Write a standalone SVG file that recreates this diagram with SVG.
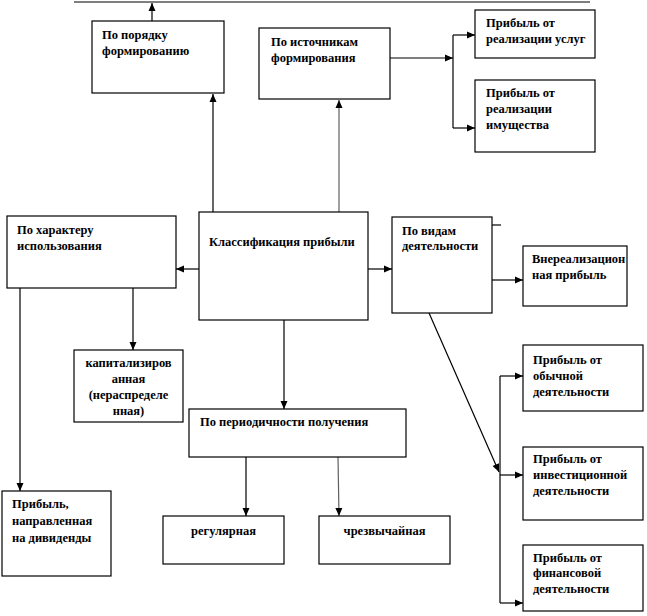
<svg xmlns="http://www.w3.org/2000/svg" width="647" height="616" viewBox="0 0 647 616">
<style>
.box{fill:#fff;stroke:#000;stroke-width:1.2}
text{font-family:'Liberation Serif','Times New Roman','DejaVu Serif',serif;font-weight:bold;font-size:12.5px;fill:#000}
.c{text-anchor:middle}
.ln{fill:none;stroke:#000;stroke-width:1.2}
.gr{stroke:#606060}
</style>
<defs>
<marker id="ah" markerUnits="userSpaceOnUse" markerWidth="10" markerHeight="10" viewBox="0 0 10 10" refX="9" refY="5" orient="auto">
<path d="M1,1.5 L9,5 L1,8.5 Z" fill="#000"/>
</marker>
</defs>
<rect width="647" height="616" fill="#fff"/>
<g id="connectors">
<line class="ln" x1="74" y1="2" x2="590" y2="2"/>
<line class="ln" x1="152" y1="21" x2="152" y2="3" marker-end="url(#ah)"/>
<line class="ln" x1="213" y1="212" x2="213" y2="94" marker-end="url(#ah)"/>
<line class="ln gr" x1="339" y1="212" x2="339" y2="100" marker-end="url(#ah)"/>
<line class="ln" x1="390" y1="58" x2="453" y2="58" marker-end="url(#ah)"/>
<line class="ln" x1="453" y1="35" x2="453" y2="128"/>
<line class="ln" x1="453" y1="35" x2="475" y2="35" marker-end="url(#ah)"/>
<line class="ln" x1="453" y1="128" x2="475" y2="128" marker-end="url(#ah)"/>
<line class="ln" x1="199" y1="269" x2="176" y2="269" marker-end="url(#ah)"/>
<line class="ln" x1="368" y1="269" x2="392" y2="269" marker-end="url(#ah)"/>
<line class="ln" x1="20" y1="288" x2="20" y2="491" marker-end="url(#ah)"/>
<line class="ln" x1="133" y1="288" x2="133" y2="350" marker-end="url(#ah)"/>
<line class="ln" x1="284" y1="320" x2="284" y2="409" marker-end="url(#ah)"/>
<line class="ln" x1="246" y1="457" x2="246" y2="516" marker-end="url(#ah)"/>
<line class="ln gr" x1="338" y1="457" x2="339" y2="516" marker-end="url(#ah)"/>
<line class="ln" x1="492" y1="225" x2="501" y2="225"/>
<line class="ln" x1="492" y1="280" x2="523" y2="280" marker-end="url(#ah)"/>
<line class="ln" x1="429" y1="313" x2="499" y2="472" marker-end="url(#ah)"/>
<line class="ln" x1="500" y1="376" x2="500" y2="603"/>
<line class="ln" x1="500" y1="376" x2="523" y2="376" marker-end="url(#ah)"/>
<line class="ln" x1="500" y1="475" x2="523" y2="475" marker-end="url(#ah)"/>
<line class="ln" x1="500" y1="603" x2="523" y2="603" marker-end="url(#ah)"/>
</g>
<g id="n-poryadok">
<rect class="box" x="92" y="21" width="132" height="72"/>
<text x="102" y="39">По порядку</text>
<text x="102" y="55">формированию</text>
</g>
<g id="n-istochniki">
<rect class="box" x="259" y="28" width="131" height="71"/>
<text x="271" y="46">По источникам</text>
<text x="271" y="62">формирования</text>
</g>
<g id="n-uslugi">
<rect class="box" x="475" y="10" width="120" height="48"/>
<text x="486" y="27">Прибыль от</text>
<text x="486" y="43">реализации услуг</text>
</g>
<g id="n-imushestvo">
<rect class="box" x="475" y="80" width="120" height="72"/>
<text x="486" y="97">Прибыль от</text>
<text x="486" y="113">реализации</text>
<text x="486" y="129">имущества</text>
</g>
<g id="n-harakter">
<rect class="box" x="7" y="216" width="169" height="72"/>
<text x="17" y="234">По характеру</text>
<text x="17" y="250">использования</text>
</g>
<g id="n-klass">
<rect class="box" x="199" y="212" width="169" height="108"/>
<text x="209" y="246">Классификация прибыли</text>
</g>
<g id="n-vidy">
<rect class="box" x="392" y="217" width="100" height="96"/>
<text x="402" y="235">По видам</text>
<text x="402" y="250">деятельности</text>
</g>
<g id="n-vnereal">
<rect class="box" x="523" y="246" width="104" height="60"/>
<text x="532" y="263">Внереализацион</text>
<text x="532" y="279">ная прибыль</text>
</g>
<g id="n-kapital">
<rect class="box" x="74" y="350" width="109" height="72"/>
<text class="c" x="128.5" y="367">капитализиров</text>
<text class="c" x="128.5" y="383">анная</text>
<text class="c" x="128.5" y="399">(нераспределе</text>
<text class="c" x="128.5" y="415">нная)</text>
</g>
<g id="n-period">
<rect class="box" x="189" y="409" width="217" height="48"/>
<text x="200" y="426">По периодичности получения</text>
</g>
<g id="n-regular">
<rect class="box" x="163" y="516" width="121" height="48"/>
<text class="c" x="223.5" y="535">регулярная</text>
</g>
<g id="n-chrezv">
<rect class="box" x="319" y="516" width="131" height="48"/>
<text class="c" x="384.5" y="535">чрезвычайная</text>
</g>
<g id="n-dividend">
<rect class="box" x="2" y="491" width="109" height="85"/>
<text x="12" y="508">Прибыль,</text>
<text x="12" y="525">направленная</text>
<text x="12" y="542">на дивиденды</text>
</g>
<g id="n-obych">
<rect class="box" x="523" y="345" width="120" height="66"/>
<text x="533" y="364">Прибыль от</text>
<text x="533" y="380">обычной</text>
<text x="533" y="396">деятельности</text>
</g>
<g id="n-invest">
<rect class="box" x="523" y="447" width="120" height="73"/>
<text x="533" y="463">Прибыль от</text>
<text x="533" y="479">инвестиционной</text>
<text x="533" y="495">деятельности</text>
</g>
<g id="n-finans">
<rect class="box" x="523" y="545" width="120" height="66"/>
<text x="533" y="562">Прибыль от</text>
<text x="533" y="577">финансовой</text>
<text x="533" y="593">деятельности</text>
</g>
</svg>
